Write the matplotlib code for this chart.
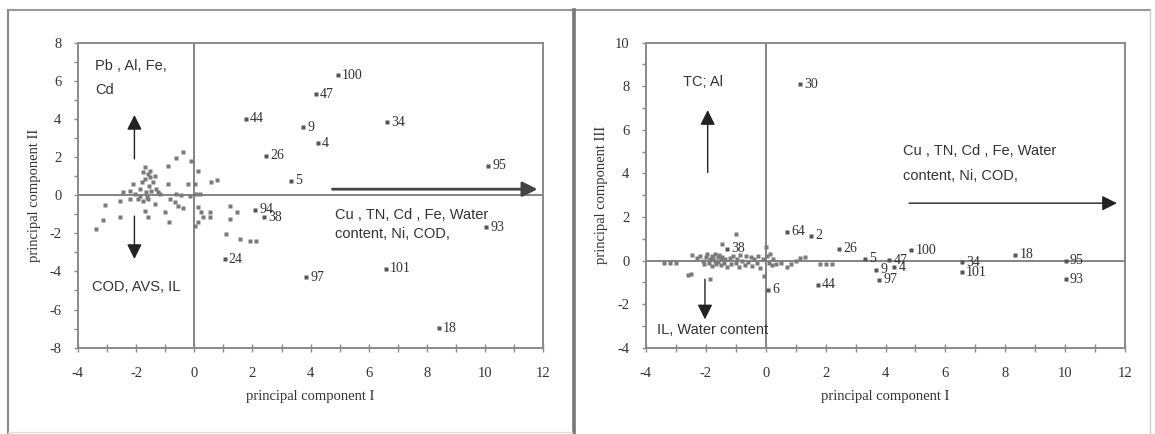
import matplotlib
matplotlib.use("Agg")
import matplotlib.pyplot as plt
from matplotlib.lines import Line2D
from matplotlib.ticker import MultipleLocator

plt.rcParams["axes.unicode_minus"] = False

# ---------------- data ----------------
# Left panel: PC1 vs PC2, labelled samples
left_labels = ["100", "47", "44", "9", "4", "34", "26", "5", "95", "94", "38", "93", "24", "97", "101", "18"]
left_pc1 = [4.94, 4.17, 1.77, 3.74, 4.25, 6.62, 2.48, 3.34, 10.1, 2.10, 2.40, 10.04, 1.04, 3.85, 6.58, 8.41]
left_pc2 = [6.29, 5.30, 3.99, 3.55, 2.73, 3.81, 2.07, 0.76, 1.54, -0.78, -1.15, -1.69, -3.35, -4.31, -3.87, -6.98]

# Left panel: unlabelled samples
left_c1 = [-3.37, -3.14, -3.06, -2.57, -2.57, -2.45, -2.22, -2.11, -2.05, -1.94, -1.88, -1.79, -1.76,
           -1.71, -1.65, -1.63, -1.56, -1.53, -1.51, -1.48, -1.42, -1.36, -1.31, -1.25, -1.19, -1.76,
           -1.86, -1.59, -2.22, -1.71, -1.59, -1.71, -1.59, -1.36, -1.02, -0.87, -0.90, -0.64, -0.39,
           -0.10, -0.90, -0.22, 0.01, 0.13, -0.62, -0.45, -0.85, -0.68, -0.56, -0.39, -0.16, 0.07,
           0.18, 0.13, 0.24, 0.30, 0.13, 0.01, 0.53, 0.53, 0.58, 0.78, 1.21, 1.47, 1.21, 1.10, 1.56,
           1.90, 2.13]
left_c2 = [-1.77, -1.28, -0.50, -1.16, -0.29, 0.18, 0.23, 0.58, 0.06, -0.20, 0.32, 0.67, 1.19,
           0.84, 0.15, -0.12, 0.50, 1.28, 0.93, 0.23, 0.67, 1.02, 0.32, 0.15, 0.06, -0.29,
           -0.03, -0.20, -0.20, 1.45, 1.10, -0.81, -1.16, -0.46, -0.90, -1.42, 1.54, 1.93, 2.28,
           1.80, 0.58, 0.58, 0.58, 1.28, 0.06, 0.00, -0.20, -0.38, -0.55, -0.69, -0.03, 0.06,
           0.06, -0.64, -0.90, -1.16, -1.42, -1.60, -0.90, -1.16, 0.70, 0.79, -0.58, -0.90, -1.25, -2.03, -2.29,
           -2.43, -2.43]

# Right panel: PC1 vs PC3, labelled samples
right_labels = ["30", "64", "2", "26", "5", "47", "100", "9", "4", "97", "34", "101", "18", "95", "93", "44", "6", "38"]
right_pc1 = [1.14, 0.72, 1.52, 2.46, 3.31, 4.12, 4.86, 3.68, 4.30, 3.79, 6.55, 6.55, 8.33, 10.02, 10.02, 1.74, 0.08, -1.30]
right_pc3 = [8.09, 1.33, 1.14, 0.53, 0.07, 0.01, 0.46, -0.42, -0.30, -0.88, -0.08, -0.54, 0.27, 0.00, -0.85, -1.11, -1.34, 0.55]

# Right panel: unlabelled samples
right_c1 = [-3.4, -3.2, -3.0, -2.6, -2.45, -2.3, -2.2, -2.1, -2.05, -2.0, -1.95, -1.9, -1.85, -1.8, -1.8,
            -1.75, -1.7, -1.7, -1.65, -1.6, -1.6, -1.55, -1.5, -1.5, -1.45, -1.45, -1.4, -1.35, -1.3,
            -1.2, -1.15, -1.1, -1.0, -0.95, -0.9, -0.85, -0.8, -0.7, -0.65, -0.6, -0.5, -0.45, -0.4,
            -0.3, -0.25, -0.2, -0.1, -0.05, 0.0, 0.05, 0.1, 0.15, 0.2, 0.25, 0.35, 0.5, 0.7, 0.85,
            1.0, 1.15, 1.3, 1.8, 2.0, 2.2, -1.85, -2.5, -0.98]
right_c3 = [-0.1, -0.12, -0.1, -0.65, 0.25, 0.1, 0.2, 0.0, -0.15, 0.15, 0.3, -0.1, 0.05, 0.2, -0.25,
            0.1, 0.0, 0.3, -0.15, 0.15, -0.05, 0.25, 0.05, -0.2, 0.75, 0.15, -0.1, 0.05, -0.3,
            0.1, -0.15, 0.2, -0.1, 0.05, -0.3, 0.25, 0.0, -0.2, 0.2, -0.05, 0.15, -0.25, 0.05,
            -0.1, 0.2, -0.35, 0.05, -0.7, 0.6, 0.2, -0.1, 0.3, -0.2, 0.05, -0.15, -0.1, -0.3, -0.15,
            0.0, 0.1, 0.15, -0.15, -0.15, -0.15, -0.85, -0.6, 1.2]

x_ticks = [-4, -2, 0, 2, 4, 6, 8, 10, 12]
left_y_ticks = [-8, -6, -4, -2, 0, 2, 4, 6, 8]
right_y_ticks = [-4, -2, 0, 2, 4, 6, 8, 10]

SERIF = ["Liberation Serif", "DejaVu Serif"]
SANS = ["Liberation Sans", "DejaVu Sans"]
TXT = "#333333"
GRID = "#8a8a8a"

W, H = 1155, 434
fig = plt.figure(figsize=(W / 100, H / 100), dpi=100)
fig.patch.set_facecolor("white")


def fx(px):
    return px / W


def fy(py):
    return 1 - py / H


# panel frames
fig.add_artist(Line2D([fx(8), fx(1150)], [fy(10), fy(10)], color="#999999", lw=1.5))
fig.add_artist(Line2D([fx(8), fx(8)], [fy(10), fy(434)], color="#888888", lw=1.5))
fig.add_artist(Line2D([fx(573.5), fx(573.5)], [fy(10), fy(434)], color="#777777", lw=2.6))
fig.add_artist(Line2D([fx(1150), fx(1150)], [fy(10), fy(434)], color="#cccccc", lw=1.0))
fig.add_artist(Line2D([fx(8), fx(572)], [fy(432), fy(432)], color="#dddddd", lw=1.0))

axL = fig.add_axes([fx(78), fy(347.7), (543.3 - 78) / W, (347.7 - 42.5) / H])
axR = fig.add_axes([fx(646), fy(347.7), (1125 - 646) / W, (347.7 - 42.5) / H])


def style(ax, yticks, ylab):
    ax.set_xlim(-4, 12)
    ax.set_ylim(yticks[0], yticks[-1])
    ax.set_xticks(x_ticks)
    ax.set_yticks(yticks)
    ax.xaxis.set_minor_locator(MultipleLocator(1))
    ax.yaxis.set_minor_locator(MultipleLocator(1))
    for s in ax.spines.values():
        s.set_color(GRID)
        s.set_linewidth(1.4)
    ax.tick_params(axis="x", which="both", direction="inout", length=6, width=1, color=GRID, pad=11,
                   top=False)
    ax.tick_params(axis="y", which="both", direction="out", length=3, width=1, color=GRID, pad=9,
                   right=False)
    for lab in ax.get_xticklabels() + ax.get_yticklabels():
        lab.set_family(SERIF)
        lab.set_fontsize(10.5)
        lab.set_color(TXT)
    ax.axhline(0, color="#707070", lw=1.2, zorder=1)
    ax.axvline(0, color="#707070", lw=1.2, zorder=1)
    ax.set_xlabel("principal component I", family=SERIF, fontsize=10.5, color=TXT)
    ax.set_ylabel(ylab, family=SERIF, fontsize=10.5, color=TXT)
    ax.xaxis.set_label_coords(0.5, -0.14)
    ax.yaxis.set_label_coords(-0.08, 0.5)


style(axL, left_y_ticks, "principal component II")
style(axR, right_y_ticks, "principal component III")


def points(ax, c1, c2, labels, p1, p2):
    ax.plot(c1, c2, ls="none", marker="s", ms=3.0, color="#7a7a7a", mec="none", zorder=3)
    ax.plot(p1, p2, ls="none", marker="s", ms=3.0, color="#555555", mec="none", zorder=3)
    for lab, a, b in zip(labels, p1, p2):
        ax.annotate(lab, (a, b), xytext=(3, 0), textcoords="offset points", ha="left", va="center",
                    family=SERIF, fontsize=10, color=TXT, zorder=4)


points(axL, left_c1, left_c2, left_labels, left_pc1, left_pc2)
points(axR, right_c1, right_c3, right_labels, right_pc1, right_pc3)


def arrow(ax, x0, y0, x1, y1, lw=1.0, color="#222222"):
    ax.annotate("", xy=(x1, y1), xytext=(x0, y0),
                arrowprops=dict(arrowstyle="-|>,head_length=0.5,head_width=0.25", mutation_scale=18,
                                color=color, lw=lw, shrinkA=0, shrinkB=0), zorder=5)


def note(ax, x, y, s):
    ax.text(x, y, s, family=SANS, fontsize=10.5, color=TXT, ha="left", va="center", zorder=5)


# Left panel annotations
arrow(axL, -2.06, 1.9, -2.06, 4.2)
arrow(axL, -2.06, -1.1, -2.06, -3.35)
arrow(axL, 4.75, 0.31, 11.8, 0.31, lw=2.0, color="#444444")
note(axL, -3.42, 6.78, "Pb , Al, Fe,")
note(axL, -3.42, 5.52, "Cd")
note(axL, -3.52, -4.84, "COD, AVS, IL")
note(axL, 4.83, -1.02, "Cu , TN, Cd , Fe, Water")
note(axL, 4.83, -2.04, "content, Ni, COD,")

# Right panel annotations
arrow(axR, -1.94, 4.04, -1.94, 6.9)
arrow(axR, -2.03, -0.86, -2.03, -2.7)
arrow(axR, 4.79, 2.63, 11.73, 2.63)
note(axR, -2.76, 8.17, "TC; Al")
note(axR, 4.58, 5.03, "Cu , TN, Cd , Fe, Water")
note(axR, 4.58, 3.88, "content, Ni, COD,")
note(axR, -3.62, -3.2, "IL, Water content")

fig.savefig("out.png", dpi=100, facecolor="white")
